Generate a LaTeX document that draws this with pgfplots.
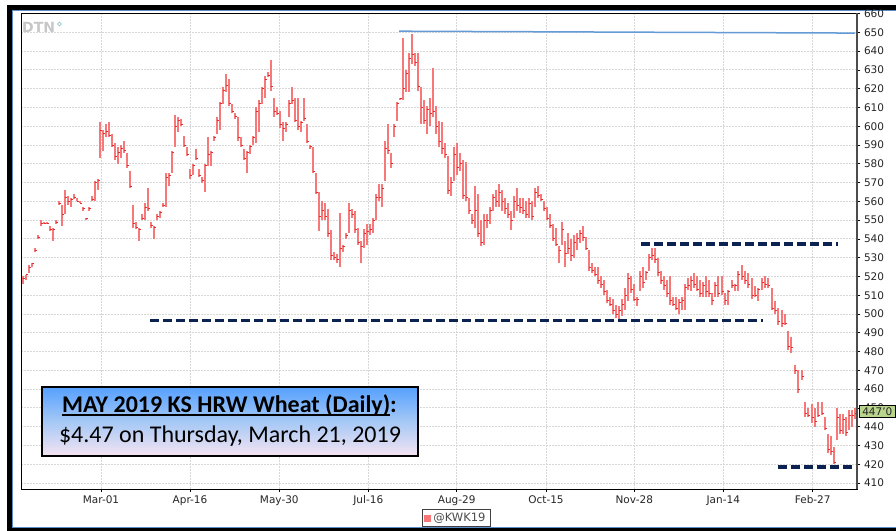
\documentclass[border=0pt]{standalone}
\usepackage{fontspec}
\setmainfont{DejaVu Sans}
\newfontfamily\carlito{Carlito}
\usepackage{pgfplots}
\usepackage{pgfplotstable}
\pgfplotsset{compat=1.18}
\definecolor{barred}{RGB}{246,120,120}
\definecolor{tickred}{RGB}{225,45,45}
\definecolor{navydash}{RGB}{12,35,82}
\definecolor{peakblue}{RGB}{100,155,215}
\definecolor{gridgray}{RGB}{215,215,215}
\definecolor{boxtop}{RGB}{85,160,255}
\definecolor{boxmid}{RGB}{165,200,245}
\definecolor{boxbot}{RGB}{245,228,242}
\definecolor{lastgreen}{RGB}{185,212,140}
\newsavebox\ulbox
\pgfdeclareplotmark{closetick}{\pgfpathmoveto{\pgfpoint{0pt}{0pt}}\pgfpathlineto{\pgfpoint{2.2bp}{0pt}}\pgfusepathqstroke}
\pgfplotstableread{
x lo hi c
23 516 520 519
26 518 521 521
29 522 526 525
32 525 527 527
35 533 535 534
38 540 542 541
41 547 550 548
44 548 549 548
47 548 549 548
50 544 547 545
53 539 546 545
56 548 550 549
59 558 560 559
62 547 558 553
65 553 566 562
68 558 563 560
71 557 562 561
74 561 564 562
77 560 562 560
80 559 560 559
83 555 557 556
86 550 551 551
89 555 557 556
92 560 563 561
95 560 571 570
98 566 572 571
100 583 602 598
103 587 598 596
106 594 601 597
109 594 602 595
112 589 596 590
115 582 591 584
118 580 589 586
121 583 590 588
124 586 592 587
127 578 586 579
130 567 576 568
133 546 558 548
136 545 549 546
139 539 546 545
142 550 553 551
145 550 559 557
148 555 567 556
151 546 549 547
154 540 547 546
157 550 553 552
160 551 555 554
163 557 559 558
166 557 575 573
169 568 575 574
172 575 587 586
175 589 606 600
178 597 605 603
181 600 604 601
184 589 595 590
187 584 589 585
190 572 577 574
193 574 580 579
196 582 588 583
199 573 577 574
202 570 573 571
205 565 580 579
208 579 594 585
211 579 587 586
214 592 595 594
217 596 605 603
220 598 613 612
223 612 621 619
226 618 628 622
229 611 625 612
232 607 612 608
235 604 607 605
238 592 605 594
241 589 594 590
244 582 588 583
247 575 587 586
250 585 590 589
253 590 595 594
256 591 610 608
259 597 614 612
262 612 621 620
265 615 627 625
268 626 629 627
271 619 635 621
274 605 615 608
277 606 610 607
280 599 608 601
283 592 602 599
286 597 602 601
289 605 614 612
292 612 621 614
295 602 615 603
298 598 615 600
301 597 603 602
304 603 615 604
307 591 601 592
310 588 590 589
313 575 589 576
316 564 575 565
319 544 565 552
322 550 560 555
325 550 559 552
328 541 556 543
331 529 545 531
334 529 533 530
337 527 532 529
340 525 554 535
343 533 537 536
346 540 543 542
349 543 559 555
352 551 556 553
355 543 555 545
358 537 546 538
361 527 539 536
364 535 545 543
367 537 548 544
370 542 548 545
373 543 551 550
376 550 564 562
379 560 569 562
382 557 569 567
385 571 592 588
388 585 601 587
391 578 586 580
394 594 601 600
397 603 613 612
400 614 615 615
403 614 647 620
406 618 630 628
409 618 639 636
412 633 649 638
415 632 639 634
418 619 639 621
421 601 621 610
424 601 614 603
427 596 611 609
430 600 615 607
433 605 631 608
436 596 611 600
439 589 603 592
442 585 602 588
445 583 591 585
448 564 584 566
451 563 573 570
454 571 589 585
457 574 591 578
460 576 586 580
463 561 582 563
466 560 581 562
469 553 562 555
472 548 553 550
475 546 568 555
478 541 564 543
481 536 550 538
484 537 553 550
487 546 553 550
490 548 557 555
493 555 564 562
496 557 566 560
499 557 569 565
502 555 566 560
505 553 562 556
508 551 559 553
511 545 555 550
514 551 563 560
517 555 567 558
520 554 562 557
523 553 562 555
526 551 560 553
529 551 562 559
532 550 560 552
535 557 567 565
538 562 568 563
541 560 564 561
544 555 560 556
547 550 557 551
550 546 553 547
553 539 548 540
556 536 546 537
559 527 536 534
562 537 549 545
565 525 539 532
568 532 543 535
571 528 540 531
574 530 542 538
577 534 543 540
580 538 545 543
583 539 547 541
586 534 541 535
589 523 534 525
592 522 527 523
595 520 525 521
598 516 525 518
601 514 520 516
604 510 518 512
607 506 513 507
610 504 509 505
613 500 508 502
616 498 505 500
619 497 504 502
622 499 508 505
625 502 514 510
628 507 522 519
631 511 520 513
634 507 516 508
637 504 509 508
640 512 523 520
643 514 525 517
646 518 523 522
649 523 532 530
652 529 535 531
655 527 535 529
658 520 530 522
661 516 523 518
664 513 520 515
667 509 518 511
670 505 520 507
673 504 509 505
676 502 509 503
679 500 508 506
682 502 509 507
685 502 516 514
688 513 519 515
691 512 520 518
694 514 522 516
697 512 520 513
700 509 518 511
703 509 517 515
706 509 520 512
709 509 518 511
712 505 511 507
715 509 517 515
718 509 520 511
722 510 520 512
725 505 511 507
728 505 513 512
732 514 518 515
735 512 516 515
738 512 523 521
742 518 526 520
745 516 523 518
748 514 522 516
752 508 519 510
755 509 515 510
758 507 514 513
762 513 519 517
765 514 520 516
768 514 519 515
772 502 514 503
775 500 507 502
778 494 503 496
782 493 502 495
785 494 500 495
788 481 491 483
791 479 488 482
795 468 473 470
798 458 470 460
802 465 470 467
805 445 453 447
808 445 450 446
812 442 452 445
815 440 450 443
818 445 453 446
822 446 453 447
825 438 445 439
828 426 436 428
831 425 435 427
834 420 429 421
837 433 450 445
840 436 447 438
843 436 447 444
846 435 445 437
849 438 449 446
852 440 449 446
855 444 450 447
}\bars
\begin{document}
\begin{tikzpicture}[x=1bp,y=1bp]
\useasboundingbox (0,0) rectangle (896,531);
\fill[white] (0,0) rectangle (896,531);
% outer frame
\fill[black] (7,0) rectangle (896,2.5);
\fill[black] (7,521) rectangle (896,526);
\fill[black] (7,0) rectangle (12,526);
\draw[color={rgb,255:red,90;green,140;blue,200}, line width=0.8] (12.5,3.2) -- (896,3.2);
\draw[color={rgb,255:red,90;green,140;blue,200}, line width=0.8] (12.5,3.2) -- (12.5,520.6) -- (896,520.6);
\begin{axis}[
  at={(21bp,42bp)}, anchor=south west,
  scale only axis, width=836bp, height=476bp,
  xmin=21, xmax=857, ymin=406.8, ymax=660.3,
  xtick={101,190,279.3,368.3,456.7,546,634.3,723.3,812.7},
  xticklabels={Mar-01,Apr-16,May-30,Jul-16,Aug-29,Oct-15,Nov-28,Jan-14,Feb-27},
  ytick={410,420,...,660},
  xtick pos=bottom, ytick pos=right, yticklabel pos=right,
  tick align=outside, major tick length=3bp,
  tick style={black, line width=0.6bp},
  grid=major,
  grid style={gridgray, line width=0.8bp, dash pattern=on 1.5bp off 1.5bp},
  axis line style={black, line width=0.8bp},
  ticklabel style={font=\fontsize{10.5bp}{12bp}\selectfont, text=black!85},
  yticklabel style={xshift=0.5bp},
  xticklabel style={yshift=-0.5bp},
  /pgf/number format/assume math mode=true,
  legend style={at={(axis description cs:0.5203,-0.061)}, anchor=center,
    draw=black!75, line width=0.8bp, font=\fontsize{11.5bp}{13bp}\selectfont,
    text=black!70, inner xsep=2.5bp, inner ysep=1.5bp},
  legend image code/.code={\fill[barred] (1bp,-3bp) rectangle (7bp,3bp);},
]
\addlegendimage{barred}
\addlegendentry{@KWK19}
\addplot[draw=none, mark=none, forget plot,
  error bars/.cd, y dir=both, y explicit, error mark=none,
  error bar style={draw=barred, line width=1.1bp}]
  table[x=x, y expr={(\thisrow{lo}+\thisrow{hi})/2}, y error expr={(\thisrow{hi}-\thisrow{lo})/2}] {\bars};
\addplot[only marks, mark=closetick, forget plot, mark options={draw=tickred, line width=0.8bp}]
  table[x=x, y=c] {\bars};
\addplot[navydash, line width=3.5bp, dash pattern=on 9bp off 4bp, forget plot] coordinates {(150,496.6) (763,496.6)};
\addplot[navydash, line width=3.5bp, dash pattern=on 9bp off 4bp, forget plot] coordinates {(641,537.2) (838,537.2)};
\addplot[navydash, line width=3.5bp, dash pattern=on 9bp off 4bp, forget plot] coordinates {(778,418.4) (855,418.4)};
\addplot[peakblue, line width=1.5bp, forget plot] coordinates {(399,650.6) (855,649.6)};
\end{axis}
\draw[black!70, line width=1.4] (857,42) -- (857,518.3);
% last price tag
\fill[lastgreen] (859.5,114) rectangle (895,125.5);
\draw[black, line width=0.8] (859.5,114) rectangle (895,125.5);
\node[font=\fontsize{10.5bp}{12bp}\selectfont, text=black!85, inner sep=0] at (877.3,119.8) {447'0};
% DTN logo
\node[anchor=base west, font=\fontsize{14bp}{16bp}\selectfont\bfseries, text=black!22, inner sep=0] at (22,498) {DTN};
\draw[color={rgb,255:red,150;green,200;blue,200}, line width=0.7] (59.5,507) circle (1.8);
% title box
\shade[top color=boxtop, bottom color=boxbot, middle color=boxmid] (41.7,75) rectangle (418,144.3);
\draw[black, line width=2] (41.7,75) rectangle (418,144.3);
\node[anchor=base, inner sep=0] at (229.5,118) {\carlito\fontsize{24bp}{28bp}\selectfont\bfseries\sbox\ulbox{MAY 2019 KS HRW Wheat (Daily)}\rlap{\rule[-2.6bp]{\wd\ulbox}{1.6bp}}\usebox\ulbox:};
\node[anchor=base, inner sep=0] at (230,88) {\carlito\fontsize{24bp}{28bp}\selectfont \$4.47 on Thursday, March 21, 2019};
\end{tikzpicture}
\end{document}
